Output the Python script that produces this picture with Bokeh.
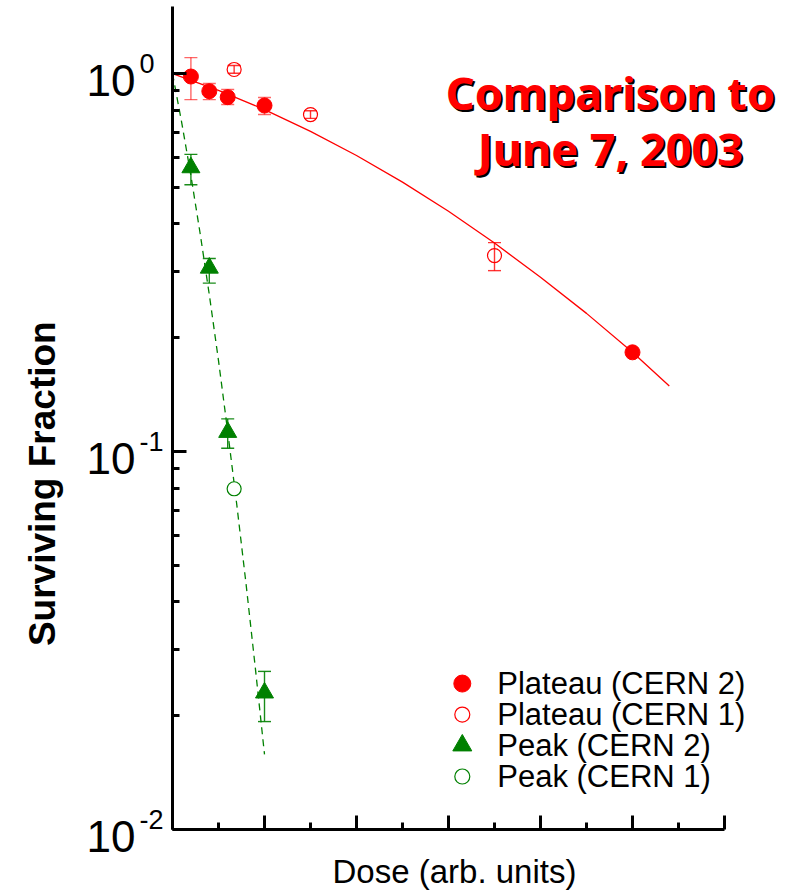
import math
from bokeh.plotting import figure
from bokeh.models import (Range1d, FixedTicker, Whisker, TeeHead, ColumnDataSource, Label,
                          LinearAxis, LogAxis)
from bokeh.core.properties import value
from bokeh.embed import file_html
from bokeh.resources import INLINE

# ---- measured survival data ----
plateau_cern2_dose = [0.2, 0.4, 0.6, 1.0, 5.0]
plateau_cern2_sf = [0.982, 0.898, 0.866, 0.823, 0.183]
# error bars (the 5.0 point has none)
plateau_cern2_err_dose = [0.2, 0.4, 0.6, 1.0]
plateau_cern2_hi = [1.102, 0.941, 0.907, 0.864]
plateau_cern2_lo = [0.853, 0.853, 0.828, 0.779]

plateau_cern1_dose = [0.67, 1.5, 3.5]
plateau_cern1_sf = [1.025, 0.779, 0.330]
plateau_cern1_hi = [1.050, 0.797, 0.357]
plateau_cern1_lo = [1.002, 0.761, 0.301]

peak_cern2_dose = [0.2, 0.4, 0.6, 1.0]
peak_cern2_sf = [0.564, 0.306, 0.1125, 0.0230]
peak_cern2_hi = [0.611, 0.324, 0.122, 0.0262]
peak_cern2_lo = [0.508, 0.279, 0.102, 0.0193]

peak_cern1_dose = [0.67]
peak_cern1_sf = [0.0797]

# ---- fitted survival curves ----
plateau_fit_dose = [0.0, 0.5, 1.0, 1.5, 2.0, 2.5, 3.0, 3.5, 4.0, 4.5, 5.0, 5.4]
plateau_fit_sf = [1.0, 0.903, 0.803, 0.703, 0.607, 0.516, 0.432, 0.356, 0.289, 0.232, 0.183, 0.149]

peak_fit_dose = [0.0, 0.1, 0.2, 0.3, 0.4, 0.5, 0.6, 0.7, 0.8, 0.9, 1.0]
peak_fit_sf = [1.0, 0.742, 0.537, 0.378, 0.260, 0.174, 0.113, 0.0719, 0.0445, 0.0268, 0.0158]

# ---- axes ----
x_bounds = (0, 6)
y_bounds = (0.01, 1.5)
x_major = [0, 1, 2, 3, 4, 5, 6]
x_minor = [0.5, 1.5, 2.5, 3.5, 4.5, 5.5]
y_major = [0.01, 0.1, 1.0]
y_major_labels = [("10", "-2"), ("10", "-1"), ("10", "0")]
y_minor = [m * 10 ** e for e in (-2, -1) for m in range(2, 10)]

legend_labels = ["Plateau (CERN 2)", "Plateau (CERN 1)", "Peak (CERN 2)", "Peak (CERN 1)"]
title_lines = ["Comparison to", "June 7, 2003"]

RED = "#ff0000"
GREEN = "#008000"
FONT = "Liberation Sans"

# the plotting area spans the whole canvas; the axes sit at fixed data locations
p = figure(width=787, height=891, x_range=Range1d(-1.8696, 6.6848),
           y_range=Range1d(0.006855, 1.5604), y_axis_type="log",
           x_axis_location=None, y_axis_location=None,
           output_backend="svg", toolbar_location=None, min_border=0)
p.outline_line_color = None
p.grid.visible = False
p.background_fill_color = "white"
p.border_fill_color = "white"

xaxis = LinearAxis(fixed_location=y_bounds[0], bounds=x_bounds,
                   ticker=FixedTicker(ticks=x_major, minor_ticks=x_minor))
yaxis = LogAxis(fixed_location=x_bounds[0], bounds=y_bounds,
                ticker=FixedTicker(ticks=y_major, minor_ticks=y_minor))
for ax in (xaxis, yaxis):
    ax.axis_line_width = 3
    ax.major_tick_line_width = 3
    ax.minor_tick_line_width = 3
    ax.major_tick_in = 14
    ax.major_tick_out = 0
    ax.minor_tick_in = 7
    ax.minor_tick_out = 0
    ax.major_label_text_color = None
    ax.major_label_text_font_size = "1px"
    ax.major_label_standoff = 0
p.add_layout(xaxis, "below")
p.add_layout(yaxis, "left")

# fitted curves
p.line(plateau_fit_dose, plateau_fit_sf, line_color=RED, line_width=1.3)
p.line(peak_fit_dose, peak_fit_sf, line_color=GREEN, line_width=1.3, line_dash="7 5")

# error bars
def add_errors(dose, lo, hi, color, alpha):
    src = ColumnDataSource(dict(base=dose, lower=lo, upper=hi))
    w = Whisker(source=src, base="base", lower="lower", upper="upper",
                line_color=color, line_width=1.4, line_alpha=alpha,
                upper_head=TeeHead(size=13, line_color=color, line_width=1.4, line_alpha=alpha),
                lower_head=TeeHead(size=13, line_color=color, line_width=1.4, line_alpha=alpha),
                level="underlay")
    p.add_layout(w)

add_errors(plateau_cern2_err_dose, plateau_cern2_lo, plateau_cern2_hi, RED, 0.6)
add_errors(plateau_cern1_dose, plateau_cern1_lo, plateau_cern1_hi, RED, 0.8)
add_errors(peak_cern2_dose, peak_cern2_lo, peak_cern2_hi, GREEN, 0.9)

# data points
p.scatter(plateau_cern2_dose, plateau_cern2_sf, marker="circle", size=15,
          fill_color=RED, line_color=RED)
p.scatter(plateau_cern1_dose, plateau_cern1_sf, marker="circle", size=14,
          fill_alpha=0, line_color=RED, line_width=1.2)
p.scatter(peak_cern2_dose, peak_cern2_sf, marker="triangle", size=18,
          fill_color=GREEN, line_color=GREEN)
p.scatter(peak_cern1_dose, peak_cern1_sf, marker="circle", size=14,
          fill_color="white", line_color=GREEN, line_width=1.2)

# legend (no box)
leg_x, leg_text_x = 3.15, 3.53
leg_y = [0.02433, 0.02014, 0.01669, 0.01381]
p.scatter([leg_x], [leg_y[0]], marker="circle", size=17, fill_color=RED, line_color=RED)
p.scatter([leg_x], [leg_y[1]], marker="circle", size=15, fill_alpha=0, line_color=RED, line_width=1.2)
p.scatter([leg_x], [leg_y[2]], marker="triangle", size=19, fill_color=GREEN, line_color=GREEN)
p.scatter([leg_x], [leg_y[3]], marker="circle", size=15, fill_alpha=0, line_color=GREEN, line_width=1.2)
p.text([leg_text_x] * 4, leg_y, text=legend_labels, text_font=value(FONT),
       text_font_size="31px", text_baseline="middle", text_align="left", text_color="black")

# title with drop shadow
title_x = [4.76, 4.76]
title_y = [0.891, 0.634]
p.text(title_x, title_y, text=title_lines, text_font=value("Noto Sans"), text_font_style="bold",
       text_font_size="45px", text_align="center", text_baseline="middle",
       text_color="#000000", x_offset=2, y_offset=2)
p.text(title_x, title_y, text=title_lines, text_font=value("Noto Sans"), text_font_style="bold",
       text_font_size="45px", text_align="center", text_baseline="middle", text_color=RED)

# y tick labels: "10" with raised exponent
for tick, (base, exp) in zip(y_major, y_major_labels):
    p.add_layout(Label(x=0, y=tick, x_offset=-37, y_offset=-7, text=base, text_font=FONT,
                       text_font_size="44px", text_align="right", text_baseline="middle",
                       text_color="black"))
    p.add_layout(Label(x=0, y=tick, x_offset=-33, y_offset=10, text=exp, text_font=FONT,
                       text_font_size="27px", text_align="left", text_baseline="middle",
                       text_color="black"))

# axis titles
p.add_layout(Label(x=0, y=0.0822, x_offset=-130, text="Surviving Fraction", text_font=FONT,
                   text_font_style="bold", text_font_size="37px", angle=math.pi / 2,
                   text_align="center", text_baseline="middle", text_color="black"))
p.add_layout(Label(x=3.065, y=0.01, y_offset=-42, text="Dose (arb. units)", text_font=FONT,
                   text_font_size="33px", text_align="center", text_baseline="middle",
                   text_color="black"))

open("out.html", "w").write(file_html(p, INLINE))
